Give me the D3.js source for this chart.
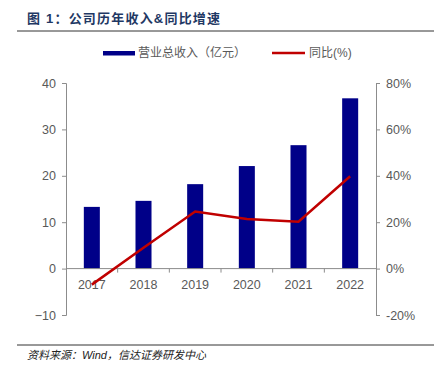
<!DOCTYPE html>
<html>
<head>
<meta charset="utf-8">
<script src="https://d3js.org/d3.v7.min.js"></script>
<style>
body{margin:0;background:#fff;}
text{font-family:"Liberation Sans","Noto Sans CJK SC",sans-serif;}
</style>
</head>
<body>
<div id="chart"></div>
<script>
// data
var years=["2017","2018","2019","2020","2021","2022"];
var revenue=[13.3,14.6,18.2,22.1,26.6,36.7];
var growth=[-6.9,9.0,24.6,21.4,20.2,39.8];
var leftTicks=[-10,0,10,20,30,40];
var rightTicks=[-20,0,20,40,60,80];

var width=438,height=376;
var margin={top:83,right:62,bottom:61,left:66};
var gW=width-margin.left-margin.right;
var gH=height-margin.top-margin.bottom;

var svg=d3.select("#chart").append("svg").attr("width",width).attr("height",height);

// title
svg.append("text").attr("x",27).attr("y",23)
	.attr("font-size",13).attr("font-weight","bold").attr("fill","#1f3864")
	.attr("letter-spacing",1.2)
	.attr("font-family","'Noto Sans CJK SC',sans-serif")
	.text("图 1：公司历年收入&同比增速");
svg.append("line").attr("x1",17).attr("x2",434).attr("y1",31).attr("y2",31)
	.attr("stroke","#333").attr("stroke-width",1);

var g=svg.append("g").attr("transform","translate("+margin.left+","+margin.top+")");

var x=d3.scaleBand().domain(years).range([0,gW]).paddingInner(0.69).paddingOuter(0.345);
var xb=d3.scaleBand().domain(years).range([0,gW]);
var y=d3.scaleLinear().domain([-10,40]).range([gH,0]);
var y2=d3.scaleLinear().domain([-20,80]).range([gH,0]);

var axisColor="#8c8c8c",labelColor="#595959";

// left axis
var la=g.append("g").call(d3.axisLeft(y).tickValues(leftTicks).tickSize(4).tickPadding(6));
la.select(".domain").attr("stroke",axisColor);
la.selectAll(".tick line").attr("stroke",axisColor);
la.selectAll("text").attr("fill",labelColor).attr("font-size",12.5);

// right axis
var ra=g.append("g").attr("transform","translate("+gW+",0)")
	.call(d3.axisRight(y2).tickValues(rightTicks).tickSize(4).tickPadding(6).tickFormat(function(d){return d+"%";}));
ra.select(".domain").attr("stroke",axisColor);
ra.selectAll(".tick line").attr("stroke",axisColor);
ra.selectAll("text").attr("fill",labelColor).attr("font-size",12.5);

// bars
g.selectAll(".bar").data(years).enter().append("rect")
	.attr("x",function(d){return x(d);})
	.attr("width",x.bandwidth())
	.attr("y",function(d,i){return y(revenue[i]);})
	.attr("height",function(d,i){return y(0)-y(revenue[i]);})
	.attr("fill","#000088");

// zero line + category ticks
g.append("line").attr("x1",0).attr("x2",gW).attr("y1",y(0)).attr("y2",y(0)).attr("stroke",axisColor);
g.selectAll(".ct").data(years.slice(1)).enter().append("line")
	.attr("x1",function(d){return xb(d);}).attr("x2",function(d){return xb(d);})
	.attr("y1",y(0)).attr("y2",y(0)+4).attr("stroke",axisColor);
g.selectAll(".cl").data(years).enter().append("text")
	.attr("x",function(d){return xb(d)+xb.bandwidth()/2;})
	.attr("y",y(0)+20).attr("text-anchor","middle")
	.attr("fill",labelColor).attr("font-size",12.5).text(function(d){return d;});

// growth line
var line=d3.line().x(function(d,i){return xb(years[i])+xb.bandwidth()/2;}).y(function(d){return y2(d);});
g.append("path").datum(growth).attr("d",line).attr("fill","none")
	.attr("stroke","#c00000").attr("stroke-width",2.5);

// legend
svg.append("rect").attr("x",103).attr("y",51).attr("width",32).attr("height",4.5).attr("fill","#000088");
svg.append("text").attr("x",138).attr("y",57).attr("font-size",12).attr("fill",labelColor)
	.attr("font-family","'Noto Sans CJK SC',sans-serif").text("营业总收入（亿元）");
svg.append("line").attr("x1",272).attr("x2",305).attr("y1",53).attr("y2",53)
	.attr("stroke","#c00000").attr("stroke-width",2.5);
svg.append("text").attr("x",309).attr("y",57).attr("font-size",12).attr("fill",labelColor)
	.attr("font-family","'Noto Sans CJK SC',sans-serif").text("同比(%)");

// source
svg.append("line").attr("x1",17).attr("x2",434).attr("y1",345).attr("y2",345)
	.attr("stroke","#333").attr("stroke-width",1);
svg.append("text").attr("x",27).attr("y",359).attr("font-size",11).attr("font-style","italic")
	.attr("fill","#222").text("资料来源：Wind，信达证券研发中心");
</script>
</body>
</html>
